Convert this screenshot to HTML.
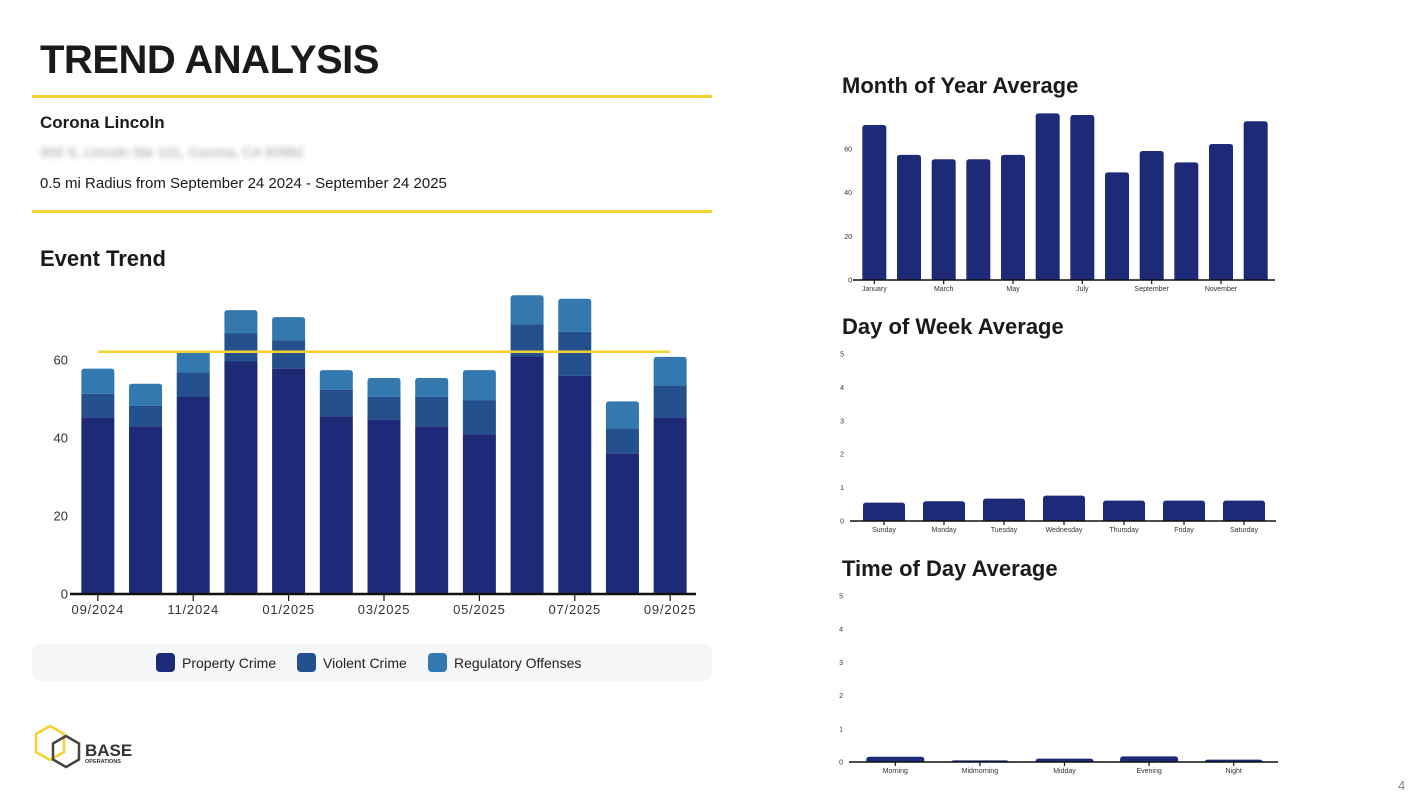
<!DOCTYPE html>
<html><head><meta charset="utf-8">
<style>
body{margin:0;width:1427px;height:798px;background:#fff;font-family:"Liberation Sans",sans-serif;overflow:hidden;position:relative}
.abs{position:absolute}
h1{position:absolute;left:40px;top:38px;margin:0;font-size:40px;font-weight:bold;color:#1a1a1a;letter-spacing:-0.5px}
.rule{position:absolute;left:32px;width:680px;height:3px;background:#f5d130}
.h2{position:absolute;font-size:22px;font-weight:bold;color:#1a1a1a}
</style></head><body>
<h1>TREND ANALYSIS</h1>
<div class="rule" style="top:95px"></div>
<div class="abs" style="left:40px;top:113px;font-size:17px;font-weight:bold;color:#1a1a1a">Corona Lincoln</div>
<div class="abs" style="left:40px;top:144px;font-size:14px;color:#999;filter:blur(3px)">450 S. Lincoln Ste 101, Corona, CA 92882</div>
<div class="abs" style="left:40px;top:175px;font-size:15px;color:#1a1a1a">0.5 mi Radius from September 24 2024 - September 24 2025</div>
<div class="rule" style="top:210px"></div>
<div class="h2" style="left:40px;top:246px">Event Trend</div>
<div class="h2" style="left:842px;top:73px">Month of Year Average</div>
<div class="h2" style="left:842px;top:314px">Day of Week Average</div>
<div class="h2" style="left:842px;top:556px">Time of Day Average</div>
<div class="abs" style="left:32px;top:644px;width:680px;height:37px;background:#f5f6f8;border-radius:8px">
 <div class="abs" style="left:124px;top:9px;width:19px;height:19px;border-radius:4px;background:#1d2a78"></div>
 <div class="abs" style="left:150px;top:11px;font-size:14px;color:#222">Property Crime</div>
 <div class="abs" style="left:265px;top:9px;width:19px;height:19px;border-radius:4px;background:#25508e"></div>
 <div class="abs" style="left:291px;top:11px;font-size:14px;color:#222">Violent Crime</div>
 <div class="abs" style="left:396px;top:9px;width:19px;height:19px;border-radius:4px;background:#3379b0"></div>
 <div class="abs" style="left:422px;top:11px;font-size:14px;color:#222">Regulatory Offenses</div>
</div>
<svg class="abs" style="left:30px;top:722px" width="110" height="50">
 <polygon points="20,4 34,12 34,30 20,38 6,30 6,12" fill="none" stroke="#f5d130" stroke-width="2.5"/>
 <polygon points="36,14 49,21.5 49,37.5 36,45 23,37.5 23,21.5" fill="none" stroke="#444" stroke-width="2.5"/>
 <text x="55" y="34" font-size="17" font-weight="bold" fill="#333" font-family="Liberation Sans">BASE</text>
 <text x="55" y="41" font-size="5.5" font-weight="bold" fill="#333" font-family="Liberation Sans">OPERATIONS</text>
</svg>
<div class="abs" style="left:1398px;top:778px;font-size:13px;color:#888">4</div>
<svg id="c" class="abs" style="left:0;top:0" width="1427" height="798"></svg>
<script>
const trendCats=["09/2024","10/2024","11/2024","12/2024","01/2025","02/2025","03/2025","04/2025","05/2025","06/2025","07/2025","08/2025","09/2025"];
const trendProperty=[45.3,43,50.5,59.6,57.8,45.6,44.7,43,41,61,56,36.1,45.3];
const trendViolent=[6,5.3,6.4,7.2,7.3,6.8,5.9,7.6,8.6,8.2,11.2,6.4,8.2];
const trendRegulatory=[6.5,5.6,5.5,6,5.9,5,4.8,4.8,7.8,7.4,8.5,6.9,7.3];
const trendAverage=62.1;
const trendTicks=[0,20,40,60];
const monthCats=["January","February","March","April","May","June","July","August","September","October","November","December"];
const monthVals=[71,57.3,55.3,55.3,57.3,76.3,75.6,49.3,59.1,53.9,62.3,72.7];
const monthTicks=[0,20,40,60];
const dowCats=["Sunday","Monday","Tuesday","Wednesday","Thursday","Friday","Saturday"];
const dowVals=[0.55,0.59,0.67,0.76,0.61,0.61,0.61];
const todCats=["Morning","Midmorning","Midday","Evening","Night"];
const todVals=[0.16,0.05,0.1,0.17,0.07];
const smallTicks=[0,1,2,3,4,5];

const svg=document.getElementById('c');
const NS='http://www.w3.org/2000/svg';
function mk(t,a,p){const e=document.createElementNS(NS,t);for(const k in a)e.setAttribute(k,a[k]);(p||svg).appendChild(e);return e;}

// generic band chart
function drawChart(o){
  const n=o.cats.length;
  const pitch=(o.x1-o.x0)/n;
  const bx=i=>o.x0+pitch*i+(pitch-o.bw)/2;
  const cx=i=>o.x0+pitch*(i+0.5);
  const y=v=>o.base-(v/o.max)*(o.base-o.top);
  const g=mk('g',{});
  
  
  o.ticks.forEach(t=>{
    const tx=mk('text',{x:o.x0-o.tgap,y:y(t)+o.fs*0.35,'text-anchor':'end','font-size':o.fs,fill:'#333','font-family':'Liberation Sans'},g);
    tx.textContent=t;
    
    
  });
  o.series.forEach((s,si)=>{
    s.vals.forEach((v,i)=>{
      let below=0;for(let k=0;k<si;k++)below+=o.series[k].vals[i];
      const top=si===o.series.length-1;
      const y0=y(below),y1=y(below+v);
      const r=mk('path',{d:top?`M${bx(i)},${y0}V${y1+3}q0,-3 3,-3h${o.bw-6}q3,0 3,3V${y0}Z`:`M${bx(i)},${y0}V${y1}h${o.bw}V${y0}Z`,fill:s.color},g);
      
      
    });
  });
  const ax=mk('line',{x1:o.x0-4,x2:o.x1+2,y1:o.base,y2:o.base,stroke:'#111','stroke-width':o.aw},g);
  
  
  o.cats.forEach((c,i)=>{
    if(i%o.every)return;
    mk('line',{x1:cx(i),x2:cx(i),y1:o.base,y2:o.base+o.tick,stroke:'#111','stroke-width':1.2},g);
    const tx=mk('text',{x:cx(i),y:o.base+o.tick+o.fs*1.0,'text-anchor':'middle','font-size':o.fs,fill:'#333','font-family':'Liberation Sans','letter-spacing':o.ls||0},g);
    tx.textContent=c;
    
    
  });
  if(o.avg!==undefined){
    const l=mk('line',{x1:cx(0),x2:cx(n-1),y1:y(o.avg),y2:y(o.avg),stroke:'#f5d130','stroke-width':2.5},g);
    
    
  }
}
drawChart({name:'event-trend-chart',cats:trendCats,x0:74,x1:694,bw:33,base:594,top:360,max:60,ticks:trendTicks,fs:13,tgap:6,aw:2.5,tick:7,every:2,ls:0.8,avg:trendAverage,
 series:[{key:'property',vals:trendProperty,color:'#1d2a78'},{key:'violent',vals:trendViolent,color:'#25508e'},{key:'regulatory',vals:trendRegulatory,color:'#3379b0'}]});
drawChart({name:'month-chart',cats:monthCats,x0:857,x1:1273,bw:24,base:280,top:149,max:60,ticks:monthTicks,fs:7,tgap:5,aw:1.5,tick:4,every:2,
 series:[{key:'month',vals:monthVals,color:'#1d2a78'}]});
drawChart({name:'dow-chart',cats:dowCats,x0:854,x1:1274,bw:42,base:521,top:354,max:5,ticks:smallTicks,fs:7,tgap:10,aw:1.5,tick:4,every:1,
 series:[{key:'dow',vals:dowVals,color:'#1d2a78'}]});
drawChart({name:'tod-chart',cats:todCats,x0:853,x1:1276,bw:58,base:762,top:596,max:5,ticks:smallTicks,fs:7,tgap:10,aw:1.5,tick:4,every:1,
 series:[{key:'tod',vals:todVals,color:'#1d2a78'}]});
</script>
</body></html>
